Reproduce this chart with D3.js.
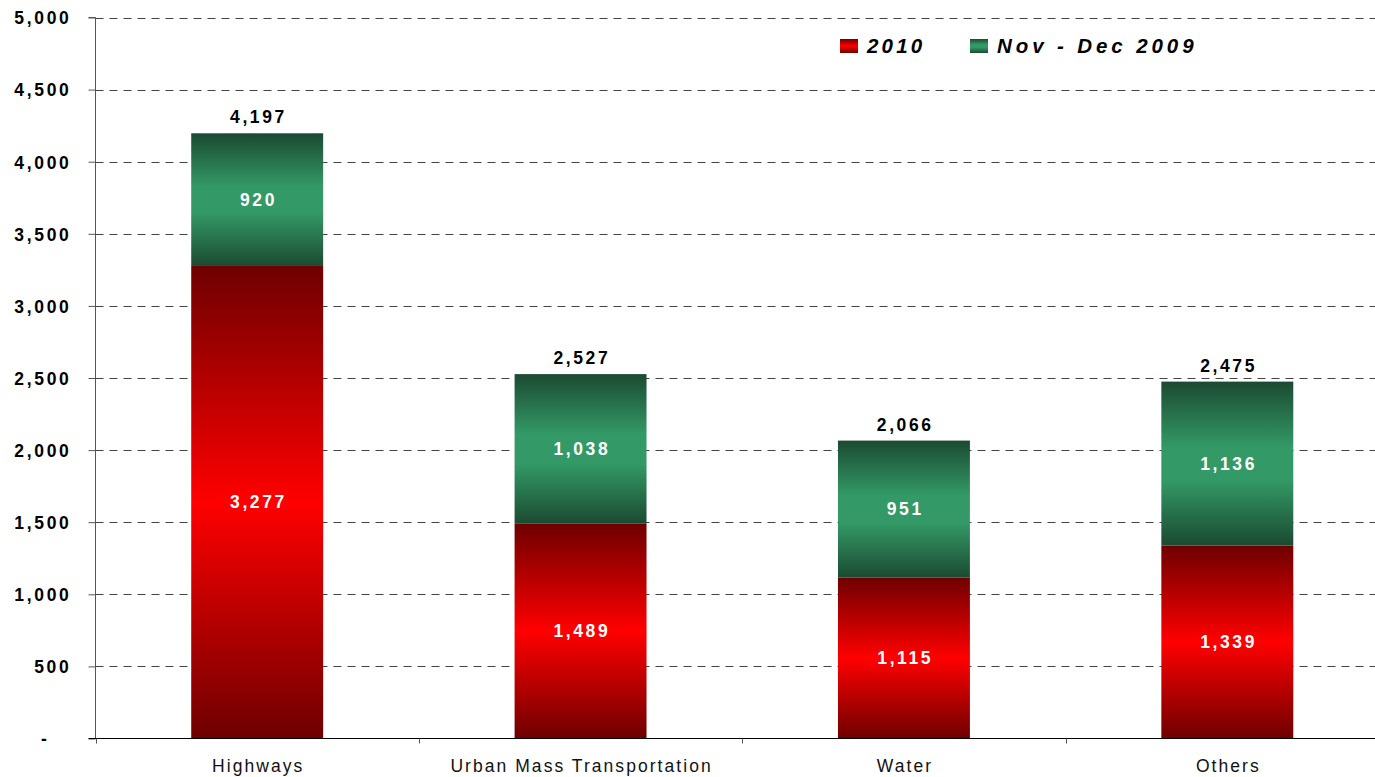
<!DOCTYPE html>
<html><head><meta charset="utf-8">
<script src="https://cdn.jsdelivr.net/npm/d3@7"></script>
<style>
body{margin:0;background:#fff;}
svg{display:block;font-family:"Liberation Sans",Arial,sans-serif;}
</style></head>
<body>
<svg id="chart" width="1375" height="777"></svg>
<script>
const categories = ["Highways","Urban Mass Transportation","Water","Others"];
const values2010 = [3277,1489,1115,1339];
const valuesNovDec2009 = [920,1038,951,1136];
const totals = [4197,2527,2066,2475];
const yTicks = [0,500,1000,1500,2000,2500,3000,3500,4000,4500,5000];
const seriesNames = ["2010","Nov - Dec 2009"];

(function(){
const svg = d3.select("#chart");
const pLeft = 95.5, pRight = 1389, pTop = 17.5, pBottom = 738.5;

const x = d3.scaleBand().domain(categories).range([pLeft, pRight]).paddingInner(0.592).paddingOuter(0.296);
const y = d3.scaleLinear().domain([0,5000]).range([pBottom, pTop]);

const defs = svg.append("defs");
const gRed = defs.append("linearGradient").attr("id","gRed").attr("x1",0).attr("y1",0).attr("x2",0).attr("y2",1);
[[0,"#6e0000"],[0.5,"#ff0000"],[1,"#6e0000"]].forEach(s=>gRed.append("stop").attr("offset",s[0]).attr("stop-color",s[1]));
const gGreen = defs.append("linearGradient").attr("id","gGreen").attr("x1",0).attr("y1",0).attr("x2",0).attr("y2",1);
[[0,"#1b4a32"],[0.4,"#339966"],[0.6,"#339966"],[1,"#1b4a32"]].forEach(s=>gGreen.append("stop").attr("offset",s[0]).attr("stop-color",s[1]));

// gridlines
svg.append("g").selectAll("line").data(yTicks.filter(d=>d>0)).join("line")
  .attr("x1", pLeft).attr("x2", 1375)
  .attr("y1", d=>Math.round(y(d))+0.5).attr("y2", d=>Math.round(y(d))+0.5)
  .attr("stroke","#444").attr("stroke-width",1).attr("stroke-dasharray","8,6");

// y axis
const yAxis = d3.axisLeft(y).tickValues(yTicks).tickSize(7).tickPadding(17)
  .tickFormat(d => d===0 ? "-" : d3.format(",")(d));
const gy = svg.append("g").attr("transform",`translate(${pLeft},0)`).call(yAxis);
gy.select(".domain").attr("stroke","#555").attr("d",`M-7,${pTop}H0V${pBottom}`);
gy.selectAll(".tick line").attr("stroke","#555");
gy.selectAll(".tick text").attr("font-size",17.5).attr("font-weight","bold").attr("fill","#000")
  .attr("font-family","Liberation Sans, Arial, sans-serif").style("letter-spacing","2.7px").attr("dy","0.36em")
  .attr("dx", d => d===0 ? -22 : 0);

// bars
const step = x.step();
const bars = svg.append("g");
categories.forEach((c,i)=>{
  bars.append("rect").attr("x",x(c)).attr("width",x.bandwidth())
    .attr("y",y(values2010[i])).attr("height",y(0)-y(values2010[i])).attr("fill","url(#gRed)");
  bars.append("rect").attr("x",x(c)).attr("width",x.bandwidth())
    .attr("y",y(totals[i])).attr("height",y(values2010[i])-y(totals[i])).attr("fill","url(#gGreen)");
});

// x axis
svg.append("line").attr("x1",pLeft-7).attr("x2",1375).attr("y1",pBottom).attr("y2",pBottom).attr("stroke","#000");
const bounds = categories.map(c=>x(c)+x.bandwidth()/2-step/2);
svg.append("g").selectAll("line").data(bounds).join("line")
  .attr("x1",d=>Math.round(d)+0.5).attr("x2",d=>Math.round(d)+0.5).attr("y1",pBottom).attr("y2",pBottom+5).attr("stroke","#555");
svg.append("g").selectAll("text").data(categories).join("text")
  .attr("x",c=>x(c)+x.bandwidth()/2+1).attr("y",771.5).attr("text-anchor","middle")
  .attr("font-size",17.5).style("letter-spacing","2.05px").attr("fill","#111").text(c=>c);

// labels
const lab = svg.append("g").attr("font-weight","bold").attr("text-anchor","middle").attr("font-size",17.5).style("letter-spacing","2.6px");
const fmt = d3.format(",");
categories.forEach((c,i)=>{
  const cx = x(c)+x.bandwidth()/2 + 1.3;
  lab.append("text").attr("x",cx).attr("y",(y(0)+y(values2010[i]))/2+6).attr("fill","#fff").text(fmt(values2010[i]));
  lab.append("text").attr("x",cx).attr("y",(y(values2010[i])+y(totals[i]))/2+6).attr("fill","#fff").text(fmt(valuesNovDec2009[i]));
  lab.append("text").attr("x",cx).attr("y",y(totals[i])-10).attr("fill","#000").text(fmt(totals[i]));
});

// legend
const leg = svg.append("g");
const legItems = [{n:seriesNames[0],f:"url(#gRed)",sx:840,tx:867,ls:3.2},{n:seriesNames[1],f:"url(#gGreen)",sx:970,tx:997,ls:3.9}];
legItems.forEach(d=>{
  leg.append("rect").attr("x",d.sx).attr("y",39).attr("width",18).attr("height",14).attr("fill",d.f);
  leg.append("text").attr("x",d.tx).attr("y",53).attr("font-size",20.5).attr("font-weight","bold").attr("font-style","italic")
    .style("letter-spacing",d.ls+"px").attr("fill","#000").text(d.n);
});
})();
</script>
</body></html>
